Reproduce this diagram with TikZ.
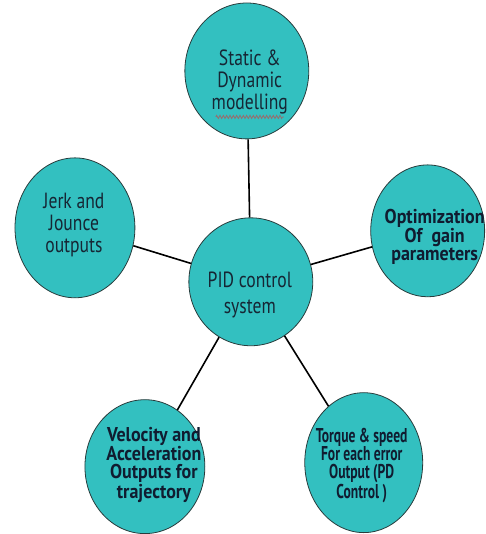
\documentclass[tikz,border=0pt]{standalone}
\usepackage{fontspec}
\setmainfont{PT Sans}[FakeStretch=0.8]
\newfontfamily\bubblebold{PT Sans}[FakeStretch=0.9]
\newfontfamily\bubblenarrow{PT Sans}[FakeStretch=0.68]
\usepackage{tikz}
\usetikzlibrary{shapes}
\usetikzlibrary{decorations.pathmorphing}

\definecolor{bubble}{RGB}{51,192,192}
\definecolor{bubbletext}{RGB}{22,38,52}

\tikzset{
  bubblenode/.style={ellipse, draw={rgb, 255:red, 40; green, 60; blue, 60}, line width=0.6, fill=bubble, inner sep=0pt},
  plaintext/.style={inner sep=0.75pt, align=center, text=bubbletext, font=\fontsize{16.5}{16.5}\selectfont},
  boldtext/.style={inner sep=0.75pt, align=center, text={rgb, 255:red, 16; green, 28; blue, 48}, font=\bubblebold\fontsize{15}{13.5}\selectfont\bfseries},
  narrowtext/.style={boldtext, font=\bubblenarrow\fontsize{15}{13.5}\selectfont\bfseries},
  link/.style={draw=black, line width=1.2}
}

\begin{document}
\begin{tikzpicture}[x=0.75pt,y=0.75pt,yscale=-1,xscale=1]
\path (0,0) rectangle (486,534); %set diagram size

%Ellipses
\node [bubblenode, minimum width=124*0.75pt, minimum height=128*0.75pt] (pid) at (251,282) {};
\node [bubblenode, minimum width=124*0.75pt, minimum height=136*0.75pt] (model) at (247,71) {};
\node [bubblenode, minimum width=120*0.75pt, minimum height=140*0.75pt] (jerk) at (75,228) {};
\node [bubblenode, minimum width=114*0.75pt, minimum height=132*0.75pt] (gain) at (428,231) {};
\node [bubblenode, minimum width=120*0.75pt, minimum height=134*0.75pt] (velo) at (145,467) {};
\node [bubblenode, minimum width=118*0.75pt, minimum height=140*0.75pt] (torque) at (364,463) {};

%Straight Lines
\draw [link] (pid) -- (model) ;
\draw [link] (pid) -- (jerk) ;
\draw [link] (pid) -- (gain) ;
\draw [link] (pid) -- (velo) ;
\draw [link] (pid) -- (torque) ;

% Text Node
\node [plaintext] (pidtxt) at (250,295) {PID control\\[3pt]system};
% Text Node
\node [plaintext] (modeltxt) at (250,82) {Static \&\\Dynamic\\modelling};
% Text Node
\node [plaintext] (jerktxt) at (74,225) {Jerk and\\Jounce\\outputs};
% Text Node
\node [boldtext] (gaintxt) at (435,237) {Optimization\\Of~ gain\\parameters};
% Text Node
\node [boldtext] (velotxt) at (154,465) {Velocity and\\Acceleration\\Outputs for\\trajectory};
% Text Node
\node [narrowtext] (torquetxt) at (362,466) {Torque \& speed\\For each error\\Output (PD\\Control )};

%spelling underline
\coordinate (wavea) at (216,117);
\coordinate (waveb) at (284,117);
\draw [color={rgb, 255:red, 150; green, 110; blue, 110}, line width=0.6, decorate, decoration={zigzag, amplitude=1.2pt, segment length=2.5pt}] (wavea) -- (waveb) ;

\end{tikzpicture}
\end{document}
